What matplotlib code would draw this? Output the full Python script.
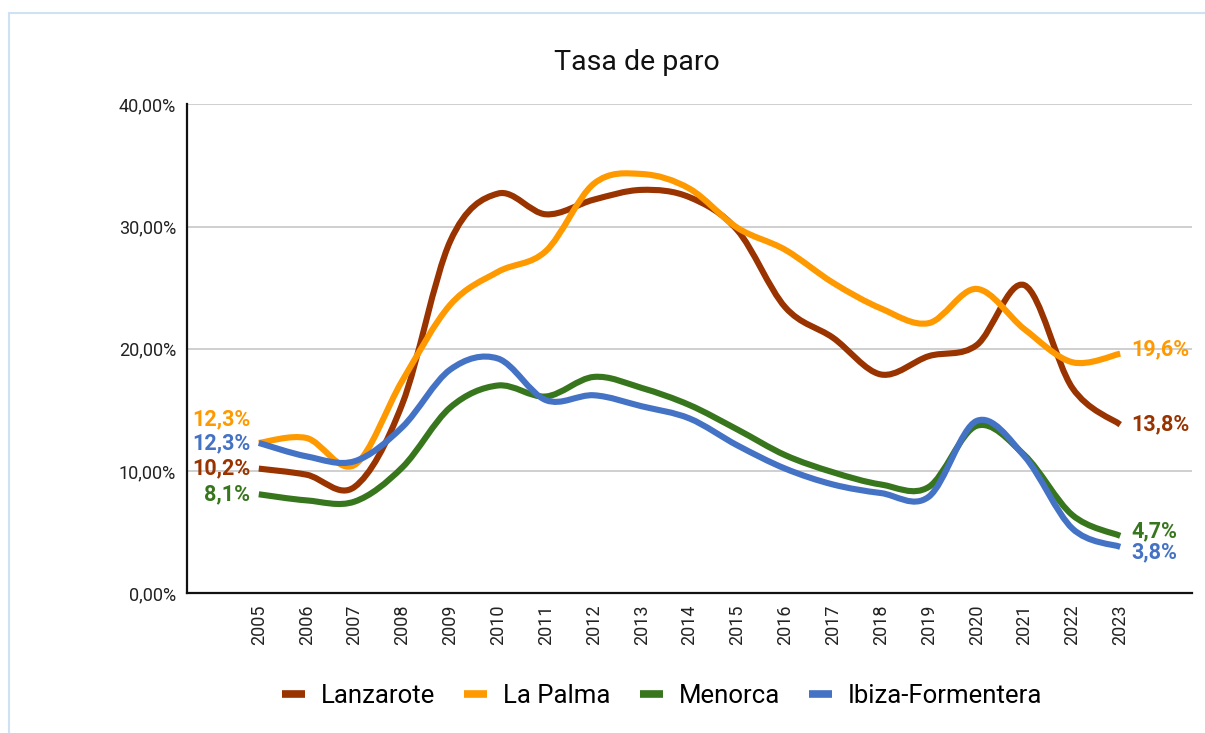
import matplotlib
matplotlib.use("Agg")
import matplotlib.pyplot as plt
from matplotlib.path import Path
from matplotlib.patches import PathPatch, Rectangle
from matplotlib.lines import Line2D
from matplotlib.ticker import FuncFormatter
import numpy as np

plt.rcParams['font.family'] = ['Roboto', 'DejaVu Sans']

# DATA
years = list(range(2005, 2024))
lanzarote = [10.2, 9.7, 8.7, 15.5, 28.8, 32.7, 31.0, 32.2, 33.0, 32.4, 29.7, 23.4, 20.9, 17.9, 19.4, 20.3, 25.2, 16.8, 13.8]
la_palma = [12.3, 12.7, 10.5, 17.4, 23.6, 26.3, 28.0, 33.5, 34.3, 33.1, 29.9, 28.1, 25.4, 23.3, 22.1, 24.9, 21.6, 18.9, 19.6]
menorca = [8.1, 7.6, 7.5, 10.3, 15.2, 17.0, 16.1, 17.7, 16.8, 15.4, 13.4, 11.3, 9.9, 8.9, 8.7, 13.7, 11.3, 6.4, 4.7]
ibiza = [12.3, 11.2, 10.8, 13.6, 18.3, 19.2, 15.8, 16.2, 15.3, 14.3, 12.1, 10.2, 8.9, 8.2, 7.9, 14.1, 11.2, 5.3, 3.8]

names = ["Lanzarote", "La Palma", "Menorca", "Ibiza-Formentera"]
colors = ["#993300", "#ff9900", "#38761d", "#4472c4"]
series = [lanzarote, la_palma, menorca, ibiza]
# label offsets in points (left label, right label)
left_off = [0, 17, 0, 0]
right_off = [0, 3, 3, -4]


def smooth_path(xs, ys):
    # Catmull-Rom through the points, drawn as cubic Bezier segments
    p = np.column_stack([xs, ys]).astype(float)
    n = len(p)
    verts = [p[0]]
    codes = [Path.MOVETO]
    for i in range(n - 1):
        p0 = p[i - 1] if i > 0 else p[i]
        p3 = p[i + 2] if i + 2 < n else p[i + 1]
        c1 = p[i] + (p[i + 1] - p0) / 6.0
        c2 = p[i + 1] - (p3 - p[i]) / 6.0
        verts += [c1, c2, p[i + 1]]
        codes += [Path.CURVE4] * 3
    return Path(verts, codes)


fig = plt.figure(figsize=(12.05, 7.33), dpi=100)
ax = fig.add_axes([187 / 1205, 1 - 593.3 / 733, (1192 - 187) / 1205, (593.3 - 104.3) / 733])

for vals, c in zip(series, colors):
    ax.add_patch(PathPatch(smooth_path(years, vals), fill=False, edgecolor=c,
                           linewidth=4.4, capstyle='butt', joinstyle='round', zorder=3))

for vals, c, lo, ro in zip(series, colors, left_off, right_off):
    ax.annotate(f"{vals[0]:.1f}%".replace(".", ","), (years[0], vals[0]),
                xytext=(-6, lo), textcoords='offset points', ha='right', va='center',
                color=c, fontsize=15.5, fontweight='bold')
    ax.annotate(f"{vals[-1]:.1f}%".replace(".", ","), (years[-1], vals[-1]),
                xytext=(8, ro), textcoords='offset points', ha='left', va='center',
                color=c, fontsize=15.5, fontweight='bold')

ax.set_xlim(2003.5, 2024.5)
ax.set_ylim(0, 40)
ax.set_yticks([0, 10, 20, 30, 40])
ax.yaxis.set_major_formatter(FuncFormatter(lambda v, _: f"{v:.2f}%".replace(".", ",")))
ax.set_xticks(years)
ax.set_xticklabels([str(y) for y in years], rotation=90)
ax.tick_params(axis='both', length=0, labelsize=13, colors='#222222')
ax.tick_params(axis='y', pad=8)
ax.tick_params(axis='x', pad=8)
ax.grid(axis='y', color='#cccccc', linewidth=1.3)
ax.set_axisbelow(True)
for s in ['top', 'right']:
    ax.spines[s].set_visible(False)
for s in ['left', 'bottom']:
    ax.spines[s].set_color('#111111')
    ax.spines[s].set_linewidth(1.6)
    ax.spines[s].set_zorder(4)

fig.text(637 / 1205, 1 - 62 / 733, "Tasa de paro", ha='center', va='center', fontsize=20.5, color='#111111')

handles = [Line2D([0], [0], color=c, linewidth=5.5, solid_capstyle='butt') for c in colors]
fig.legend(handles, names, loc='center', bbox_to_anchor=(662 / 1205, 1 - 696 / 733), ncol=4,
           frameon=False, fontsize=18.5, handlelength=0.9, handletextpad=0.6, columnspacing=1.15)

# light blue frame around the chart
fig.patches.append(Rectangle((9 / 1205, -0.05), 1.1, 1.05 - 13 / 733, transform=fig.transFigure,
                             fill=False, edgecolor='#cfe2f3', linewidth=1.5))

fig.savefig("out.png", dpi=100)
